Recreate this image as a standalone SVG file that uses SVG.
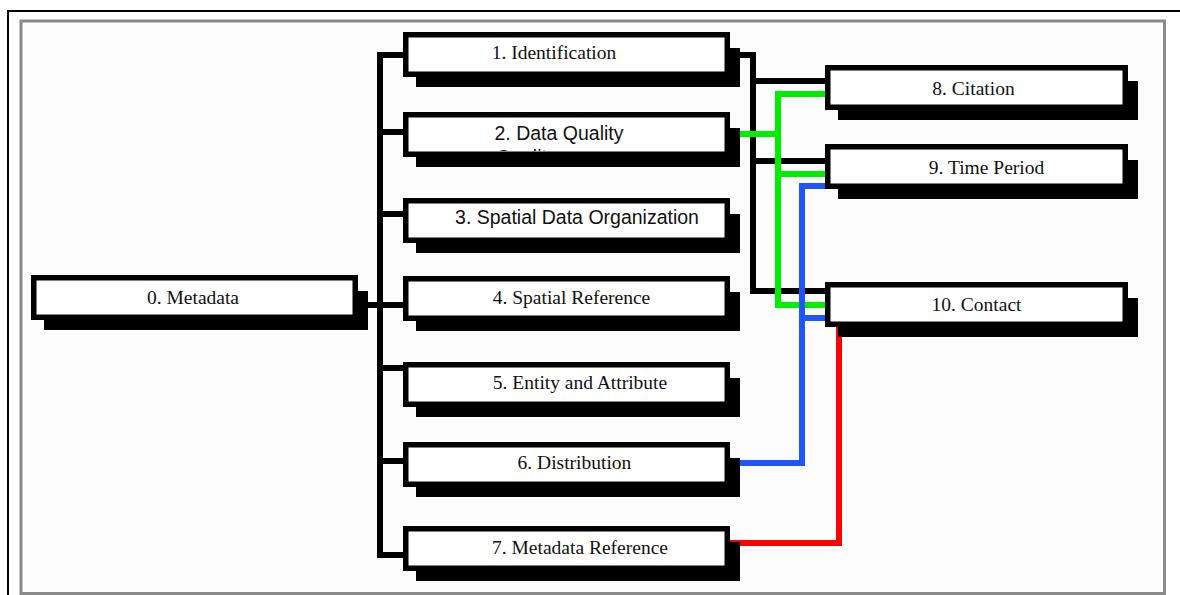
<svg xmlns="http://www.w3.org/2000/svg" width="1180" height="595" viewBox="0 0 1180 595">
  <style>
    .sh { fill: #000; }
    .bx { fill: #fff; stroke: #000; stroke-width: 5.5; }
    .serif { font-family: "Liberation Serif", "Times New Roman", serif; font-size: 19.5px; fill: #111; text-anchor: middle; }
    .sans { font-family: "Liberation Sans", Arial, sans-serif; font-size: 19.5px; fill: #111; }
    .ln { fill: none; stroke-width: 6; stroke-linejoin: miter; stroke-linecap: butt; }
    .k { stroke: #000; }
    .g { stroke: #00ee00; }
    .b { stroke: #1f55ff; }
    .r { stroke: #ff0000; }
  </style>
  <defs>
    <clipPath id="clip-dq">
      <rect x="409" y="117" width="316" height="34"/>
    </clipPath>
  </defs>

  <!-- page -->
  <rect x="0" y="0" width="1180" height="595" fill="#fff"/>
  <path d="M8,595 V11 H1180" fill="none" stroke="#000" stroke-width="2"/>
  <rect x="21" y="21" width="1143.5" height="572.5" fill="#fdfdfd" stroke="#8a8a8a" stroke-width="3"/>

  <!-- connectors -->
  <g id="connectors" class="ln">
    <!-- metadata to sections -->
    <path class="k" d="M403,55 H380 V555 H403"/>
    <path class="k" d="M380,132 H403 M380,214 H403 M358,305 H403 M380,368 H403 M380,461 H403"/>
    <!-- identification to citation / time period / contact -->
    <path class="k" d="M740,55 H753 V291 H825 M753,81 H825 M753,161 H825"/>
    <!-- data quality -->
    <path class="g" d="M825,94 H778 V305 H825 M740,134 H778 M778,174 H825"/>
    <!-- distribution -->
    <path class="b" d="M740,463 H802 V186 H825 M802,318 H825"/>
    <!-- metadata reference -->
    <path class="r" d="M730,543 H839 V320"/>
  </g>

  <!-- nodes -->
  <g id="n0">
    <rect class="sh" x="44" y="291" width="324" height="39"/>
    <rect class="bx" x="33.75" y="277.75" width="321.5" height="39.5"/>
    <text class="serif" x="193" y="304">0. Metadata</text>
  </g>
  <g id="n1">
    <rect class="sh" x="416" y="48" width="324" height="39"/>
    <rect class="bx" x="405.75" y="34.75" width="321.5" height="39.5"/>
    <text class="serif" x="554" y="58.5">1. Identification</text>
  </g>
  <g id="n2">
    <rect class="sh" x="416" y="128" width="324" height="39"/>
    <rect class="bx" x="405.75" y="114.75" width="321.5" height="39.5"/>
    <text class="sans" x="494.5" y="140">2. Data Quality</text>
    <text class="sans" x="496" y="163.5" clip-path="url(#clip-dq)">Quality</text>
  </g>
  <g id="n3">
    <rect class="sh" x="416" y="214" width="324" height="39"/>
    <rect class="bx" x="405.75" y="200.75" width="321.5" height="39.5"/>
    <text class="sans" x="577" y="224" text-anchor="middle">3. Spatial Data Organization</text>
  </g>
  <g id="n4">
    <rect class="sh" x="416" y="292" width="324" height="39"/>
    <rect class="bx" x="405.75" y="278.75" width="321.5" height="39.5"/>
    <text class="serif" x="571.5" y="303.5">4. Spatial Reference</text>
  </g>
  <g id="n5">
    <rect class="sh" x="416" y="378" width="324" height="39"/>
    <rect class="bx" x="405.75" y="364.75" width="321.5" height="39.5"/>
    <text class="serif" x="580" y="388.5">5. Entity and Attribute</text>
  </g>
  <g id="n6">
    <rect class="sh" x="416" y="458" width="324" height="39"/>
    <rect class="bx" x="405.75" y="444.75" width="321.5" height="39.5"/>
    <text class="serif" x="574.5" y="468.5">6. Distribution</text>
  </g>
  <g id="n7">
    <rect class="sh" x="416" y="542" width="324" height="39"/>
    <rect class="bx" x="405.75" y="528.75" width="321.5" height="39.5"/>
    <text class="serif" x="580" y="553.5">7. Metadata Reference</text>
  </g>
  <g id="n8">
    <rect class="sh" x="838" y="81" width="300" height="39"/>
    <rect class="bx" x="827.75" y="67.75" width="297.5" height="39.5"/>
    <text class="serif" x="973.5" y="95">8. Citation</text>
  </g>
  <g id="n9">
    <rect class="sh" x="838" y="160" width="300" height="39"/>
    <rect class="bx" x="827.75" y="146.75" width="297.5" height="39.5"/>
    <text class="serif" x="986.5" y="173.5">9. Time Period</text>
  </g>
  <g id="n10">
    <rect class="sh" x="838" y="298" width="300" height="39"/>
    <rect class="bx" x="827.75" y="284.75" width="297.5" height="39.5"/>
    <text class="serif" x="976.5" y="311">10. Contact</text>
  </g>
</svg>
